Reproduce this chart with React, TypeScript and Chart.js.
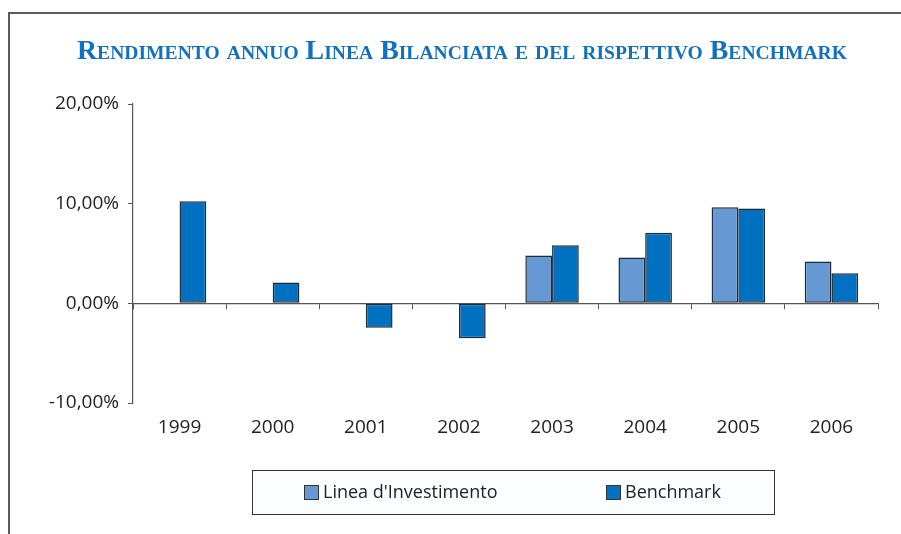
import React, { useEffect, useRef } from 'react';
import { Chart, registerables } from 'chart.js';

Chart.register(...registerables);

const years = ['1999', '2000', '2001', '2002', '2003', '2004', '2005', '2006'];
const lineaValues: (number | null)[] = [null, null, null, null, 4.79, 4.6, 9.65, 4.19];
const benchmarkValues: number[] = [10.25, 2.1, -2.45, -3.5, 5.83, 7.07, 9.52, 3.02];
const seriesNames = ["Linea d'Investimento", 'Benchmark'];
const seriesColors = ['#6699D3', '#0070C0'];
const yTickValues = [-10, 0, 10, 20];
const titleText = 'Rendimento annuo Linea Bilanciata e del rispettivo Benchmark';

const SANS = "'Open Sans', 'Noto Sans', sans-serif";

const framePlugin = {
  id: 'frameAndExtras',
  beforeDraw(chart: any) {
    const ctx = chart.ctx;
    ctx.save();
    ctx.strokeStyle = '#5a5a5a';
    ctx.lineWidth = 2;
    ctx.beginPath();
    ctx.moveTo(9, 534);
    ctx.lineTo(9, 13);
    ctx.lineTo(901, 13);
    ctx.stroke();

    // title
    ctx.font = "small-caps bold 27px 'Liberation Serif', serif";
    try { (ctx as any).fontVariantCaps = 'small-caps'; } catch (e) {}
    ctx.fillStyle = '#1270C0';
    ctx.textBaseline = 'alphabetic';
    ctx.textAlign = 'left';
    const w = ctx.measureText(titleText).width;
    const target = 770;
    ctx.translate(77, 59);
    ctx.scale(target / w, 1);
    ctx.fillText(titleText, 0, 0);
    ctx.restore();
  },
  afterDraw(chart: any) {
    const ctx = chart.ctx;
    ctx.save();
    // legend box
    ctx.fillStyle = '#fcfdff';
    ctx.fillRect(252.5, 470.5, 522, 44);
    ctx.strokeStyle = '#333';
    ctx.lineWidth = 1;
    ctx.strokeRect(252.5, 470.5, 522, 44);
    const markerX = [304, 606];
    ctx.font = `18px ${SANS}`;
    ctx.textBaseline = 'middle';
    ctx.textAlign = 'left';
    chart.data.datasets.forEach((ds: any, i: number) => {
      const x = markerX[i];
      ctx.fillStyle = ds.backgroundColor;
      ctx.fillRect(x + 0.5, 485.5, 14, 14);
      ctx.strokeStyle = '#333';
      ctx.strokeRect(x + 0.5, 485.5, 14, 14);
      ctx.fillStyle = '#222';
      ctx.fillText(ds.label, x + 19, 492.5);
    });
    ctx.restore();
  },
};

export default function App() {
  const ref = useRef<HTMLCanvasElement | null>(null);
  useEffect(() => {
    if (!ref.current) return;
    const chart = new Chart(ref.current, {
      type: 'bar',
      data: {
        labels: years,
        datasets: [
          {
            label: seriesNames[0],
            data: lineaValues,
            backgroundColor: seriesColors[0],
            borderColor: '#1e2a36',
            borderWidth: 1.5,
            borderSkipped: false,
            xAxisID: 'x',
            yAxisID: 'y',
          },
          {
            label: seriesNames[1],
            data: benchmarkValues,
            backgroundColor: seriesColors[1],
            borderColor: '#1e2a36',
            borderWidth: 1.5,
            borderSkipped: false,
            xAxisID: 'x',
            yAxisID: 'y',
          },
        ],
      },
      options: {
        responsive: false,
        animation: false,
        devicePixelRatio: 1,
        layout: { padding: { top: 104, right: 23, bottom: 91, left: 10 } },
        datasets: { bar: { barPercentage: 1, categoryPercentage: 0.574 } },
        plugins: {
          legend: { display: false },
          title: { display: false },
          tooltip: { enabled: false },
        },
        scales: {
          x: {
            type: 'category',
            position: { y: 0 } as any,
            offset: true,
            afterFit: (s: any) => { s.height = 0; },
            grid: {
              offset: true,
              drawOnChartArea: false,
              drawTicks: true,
              tickLength: 5,
              color: '#555',
            },
            border: { display: true, color: '#555', width: 1.2 },
            ticks: { display: false },
          },
          x2: {
            type: 'category',
            position: 'bottom',
            offset: true,
            afterFit: (s: any) => { s.height = 40; },
            grid: { display: false, drawTicks: false },
            border: { display: false },
            ticks: {
              padding: 13,
              color: '#222',
              font: { family: SANS, size: 19 },
              maxRotation: 0,
              autoSkip: false,
            },
          },
          y: {
            type: 'linear',
            position: 'left',
            min: -10,
            max: 20,
            afterFit: (s: any) => { s.width = 123; },
            afterBuildTicks: (s: any) => { s.ticks = yTickValues.map((v) => ({ value: v })); },
            grid: {
              drawOnChartArea: false,
              drawTicks: true,
              tickLength: 5,
              color: '#555',
            },
            border: { display: true, color: '#555', width: 1.2 },
            ticks: {
              padding: 9,
              color: '#222',
              font: { family: SANS, size: 19 },
              callback: (v: any) => Number(v).toFixed(2).replace('.', ',') + '%',
            },
          },
        },
      },
      plugins: [framePlugin],
    });
    return () => chart.destroy();
  }, []);
  return (
    <div style={{ position: 'fixed', left: 0, top: 0, width: 901, height: 534, background: '#fff' }}>
      <canvas ref={ref} width={901} height={534} style={{ width: 901, height: 534, display: 'block' }} />
    </div>
  );
}
